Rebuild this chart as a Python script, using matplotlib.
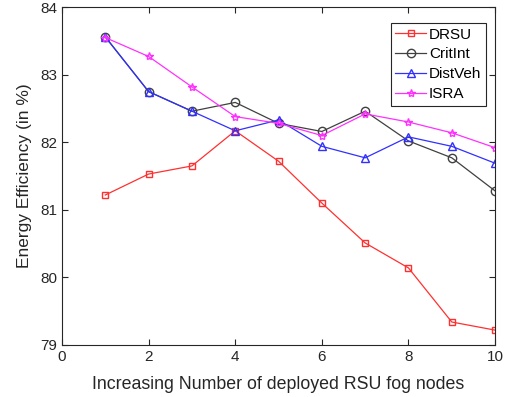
import matplotlib
matplotlib.use("Agg")
import matplotlib.pyplot as plt

plt.rcParams['font.family'] = ['Liberation Sans', 'DejaVu Sans']

x = [1, 2, 3, 4, 5, 6, 7, 8, 9, 10]
drsu = [81.22, 81.53, 81.65, 82.17, 81.72, 81.10, 80.51, 80.14, 79.34, 79.22]
critint = [83.56, 82.75, 82.46, 82.59, 82.28, 82.16, 82.46, 82.02, 81.77, 81.28]
distveh = [83.56, 82.75, 82.46, 82.17, 82.33, 81.94, 81.77, 82.08, 81.94, 81.69]
isra = [83.55, 83.27, 82.82, 82.38, 82.28, 82.10, 82.42, 82.30, 82.14, 81.92]

fig = plt.figure(figsize=(5.06, 3.97), dpi=100)
ax = fig.add_axes([0.1225, 0.131, 0.856, 0.851])

ax.plot(x, drsu, color='#ff3030', marker='s', ms=5, mfc='none', lw=0.9, label='DRSU')
ax.plot(x, critint, color='#404040', marker='o', ms=6, mfc='none', lw=0.9, label='CritInt')
ax.plot(x, distveh, color='#3030ff', marker='^', ms=6, mfc='none', lw=0.9, label='DistVeh')
ax.plot(x, isra, color='#ff30ff', marker='*', ms=6, mfc='none', lw=0.9, label='ISRA')

ax.set_xlim(0, 10)
ax.set_ylim(79, 84)
ax.set_xticks([0, 2, 4, 6, 8, 10])
ax.set_yticks([79, 80, 81, 82, 83, 84])
ax.tick_params(direction='in', top=True, right=True, labelsize=11, colors='#262626', length=4)
for s in ax.spines.values():
    s.set_color('#262626')
    s.set_linewidth(0.8)
ax.set_xlabel('Increasing Number of deployed RSU fog nodes', fontsize=12.8, color='#262626', labelpad=9)
ax.set_ylabel('Energy Efficiency (in %)', fontsize=12.5, color='#262626', labelpad=6)
leg = ax.legend(loc='upper right', bbox_to_anchor=(0.979, 0.953), fontsize=11, fancybox=False,
                edgecolor='#262626', framealpha=1, borderpad=0.3, labelspacing=0.38, handlelength=2.0,
                handletextpad=0.2, borderaxespad=0)
leg.get_frame().set_linewidth(0.8)

fig.savefig('out.png', dpi=100)
